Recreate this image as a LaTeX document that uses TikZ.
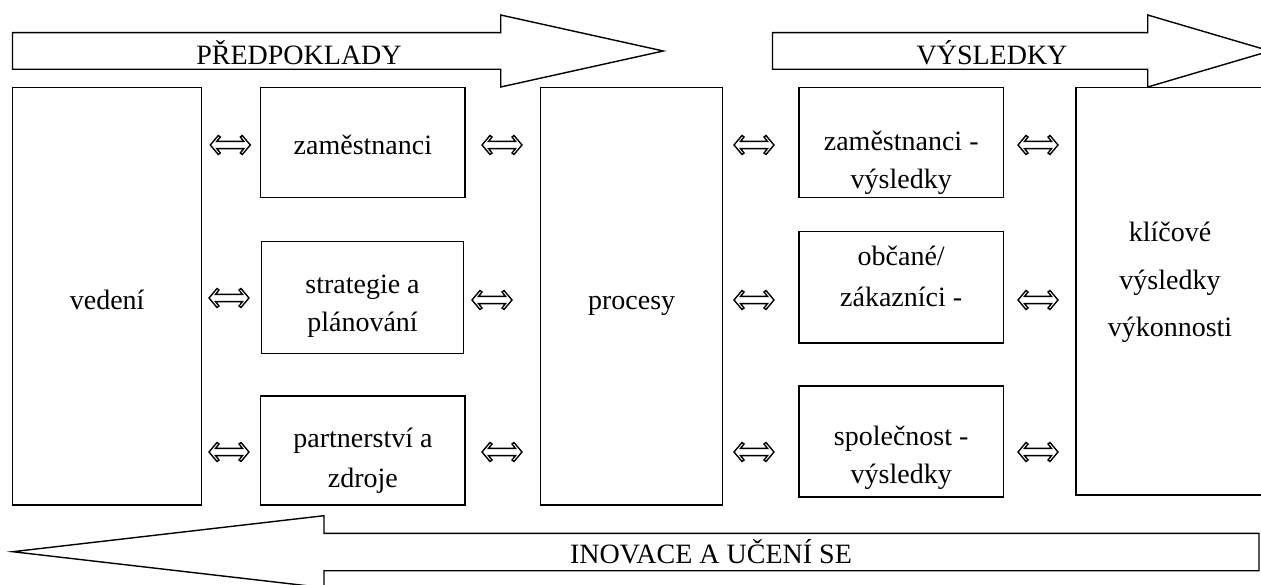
\documentclass[tikz,border=0pt]{standalone}
\usepackage{fontspec}
\setmainfont{Liberation Serif}
\begin{document}
\begin{tikzpicture}[x=1pt,y=-1pt,
  line join=miter,
  outline/.style={draw=black,line width=1.4pt,fill=white},
  box/.style={draw=black,line width=1.4pt,fill=white,inner sep=0pt,outer sep=0pt},
  lbl/.style={anchor=base,inner sep=0pt,font=\fontsize{28}{34}\selectfont},
  lrarrow/.pic={
    \draw[line width=1.4pt,fill=white]
      (-20,0) -- (-12,-9.5) -- (-10,-8) -- (-13.5,-3.6) -- (13.5,-3.6)
      -- (10,-8) -- (12,-9.5) -- (20,0) -- (12,9.5) -- (10,8)
      -- (13.5,3.6) -- (-13.5,3.6) -- (-10,8) -- (-12,9.5) -- cycle;
  }]
\useasboundingbox (0,0) rectangle (1261,585);

% block arrows
\draw[outline] (12.5,32.7) -- (500.7,32.7) -- (500.7,15) -- (663.3,51)
  -- (500.7,87) -- (500.7,69.3) -- (12.5,69.3) -- cycle;
\node[lbl] (predpoklady) at (299,65) {PŘEDPOKLADY};

\draw[outline] (772.5,32.7) -- (1147.7,32.7) -- (1147.7,15) -- (1270,51)
  -- (1147.7,87) -- (1147.7,69.3) -- (772.5,69.3) -- cycle;
\node[lbl] (vysledky) at (992,65) {VÝSLEDKY};

\draw[outline] (1259,533.3) -- (324,533.3) -- (324,515.7) -- (12.7,551.7)
  -- (324,587.7) -- (324,570.7) -- (1259,570.7) -- cycle;
\node[lbl] (inovace) at (711,563) {INOVACE A UČENÍ SE};

% boxes
\node[box,minimum width=189pt,minimum height=417.7pt] (vedeni) at (107.2,296.2) {};
\node[box,minimum width=204.3pt,minimum height=110pt] (zam) at (362.9,142.3) {};
\node[box,minimum width=201.6pt,minimum height=111.6pt] (strat) at (362.5,297.5) {};
\node[box,minimum width=204.3pt,minimum height=109pt] (partn) at (362.9,450.5) {};
\node[box,minimum width=182pt,minimum height=417.7pt] (procesy) at (631.7,296.2) {};
\node[box,minimum width=204.3pt,minimum height=110pt] (zamv) at (901.2,142.3) {};
\node[box,minimum width=204.3pt,minimum height=111.3pt] (obcane) at (901.2,287.4) {};
\node[box,minimum width=204.3pt,minimum height=111pt] (spol) at (901.2,441.5) {};
\node[box,minimum width=188pt,minimum height=407.7pt] (klicove) at (1170,291.2) {};

% box texts
\node[lbl] (t-vedeni) at (vedeni.center |- 0,310) {vedení};
\node[lbl] (t-zam) at (zam.center |- 0,155) {zaměstnanci};
\node[lbl] (t-strat1) at (strat.center |- 0,294) {strategie a};
\node[lbl] (t-strat2) at (strat.center |- 0,331) {plánování};
\node[lbl] (t-partn1) at (partn.center |- 0,447) {partnerství a};
\node[lbl] (t-partn2) at (partn.center |- 0,487) {zdroje};
\node[lbl] (t-procesy) at (procesy.center |- 0,310) {procesy};
\node[lbl] (t-zamv1) at (zamv.center |- 0,150.5) {zaměstnanci -};
\node[lbl] (t-zamv2) at (zamv.center |- 0,188.5) {výsledky};
\node[lbl] (t-obc1) at (obcane.center |- 0,265.5) {občané/};
\node[lbl] (t-obc2) at (obcane.center |- 0,306.5) {zákazníci -};
\node[lbl] (t-spol1) at (spol.center |- 0,445.5) {společnost -};
\node[lbl] (t-spol2) at (spol.center |- 0,483.5) {výsledky};
\node[lbl] (t-kl1) at (klicove.center |- 0,242) {klíčové};
\node[lbl] (t-kl2) at (klicove.center |- 0,290) {výsledky};
\node[lbl] (t-kl3) at (klicove.center |- 0,336) {výkonnosti};

% two-way arrows between the columns
\pic (a11) at (230.3,145) {lrarrow};
\pic (a12) at (229,298) {lrarrow};
\pic (a13) at (229,452) {lrarrow};
\pic (a21) at (502,145) {lrarrow};
\pic (a22) at (492,300) {lrarrow};
\pic (a23) at (502,452) {lrarrow};
\pic (a31) at (754,145) {lrarrow};
\pic (a32) at (754,300) {lrarrow};
\pic (a33) at (754,452) {lrarrow};
\pic (a41) at (1038,145) {lrarrow};
\pic (a42) at (1038,300) {lrarrow};
\pic (a43) at (1038,452) {lrarrow};
\end{tikzpicture}
\end{document}
